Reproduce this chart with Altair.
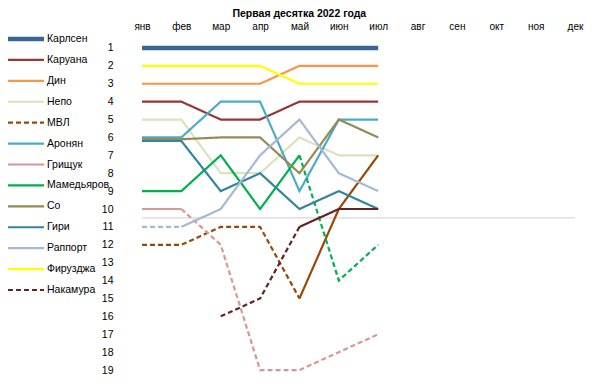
import altair as alt
import pandas as pd

months = ["янв", "фев", "мар", "апр", "май", "июн", "июл", "авг", "сен", "окт", "ноя", "дек"]
names = ["Карлсен", "Каруана", "Дин", "Непо", "МВЛ", "Аронян", "Грищук",
         "Мамедьяров", "Со", "Гири", "Раппорт", "Фирузджа", "Накамура"]
colors = ["#3B6497", "#953735", "#F79646", "#D7E4BD", "#984807", "#4BACC6", "#D99694",
          "#00B050", "#948A54", "#31859C", "#A5B8D8", "#FFFF00", "#632523"]

# rank per month (янв..июл); None = not in list
ranks = {
    "Карлсен":    [1, 1, 1, 1, 1, 1, 1],
    "Каруана":    [4, 4, 5, 5, 4, 4, 4],
    "Дин":        [3, 3, 3, 3, 2, 2, 2],
    "Непо":       [5, 5, 8, 8, 6, 7, 7],
    "МВЛ":        [12, 12, 11, 11, 15, 10, 7],
    "Аронян":     [6, 6, 4, 4, 9, 5, 5],
    "Грищук":     [10, 10, 12, 19, 19, 18, 17],
    "Мамедьяров": [9, 9, 7, 10, 7, 14, 12],
    "Со":         [6.1, 6.1, 6, 6, 8, 5, 6],
    "Гири":       [6.2, 6.2, 9, 8, 10, 9, 10],
    "Раппорт":    [11, 11, 10, 7, 5, 8, 9],
    "Фирузджа":   [2, 2, 2, 2, 3, 3, 3],
    "Накамура":   [None, None, 16, 15, 11, 10, 10],
}
# style of each segment between consecutive months: s = solid, d = dashed
seg_styles = {
    "МВЛ":        ["d", "d", "d", "d", "s", "s"],
    "Грищук":     ["s", "d", "d", "d", "d", "d"],
    "Мамедьяров": ["s", "s", "s", "s", "d", "d"],
    "Раппорт":    ["d", "s", "s", "s", "s", "s"],
    "Накамура":   ["s", "s", "d", "d", "s", "s"],
}
legend_styles = {"МВЛ": "d", "Накамура": "d"}
widths = {"Карлсен": 4.5}
cutoff = [10.5]

rows = []
for name in names:
    vals = ranks[name]
    styles = seg_styles.get(name, ["s"] * (len(vals) - 1))
    run = 0
    prev_style = None
    for i in range(len(vals) - 1):
        a, b = vals[i], vals[i + 1]
        if a is None or b is None:
            continue
        st = styles[i]
        if st != prev_style:
            run += 1
            prev_style = st
            rows.append(dict(series=name, run=f"{name}-{run}", month=i + 1, rank=a,
                             style=st, w=widths.get(name, 2.2)))
        rows.append(dict(series=name, run=f"{name}-{run}", month=i + 2, rank=b,
                         style=st, w=widths.get(name, 2.2)))
df = pd.DataFrame(rows)

FONT = "Liberation Sans"
W, H = 433, 340

color_scale = alt.Scale(domain=names, range=colors)
dash_scale = alt.Scale(domain=["s", "d"], range=[[1, 0], [7, 4]])

x_enc = alt.X("month:Q", scale=alt.Scale(domain=[1, 12], nice=False),
              axis=alt.Axis(orient="top", values=list(range(1, 13)),
                            labelExpr="['" + "','".join(months) + "'][datum.value-1]",
                            domain=False, ticks=False, grid=False, labelPadding=8,
                            labelFlush=False, labelOverlap=False,
                            labelFontSize=10, labelFont=FONT, labelColor="#000",
                            title=None))
y_enc = alt.Y("rank:Q", scale=alt.Scale(domain=[0.5, 19.5], reverse=True, nice=False, zero=False),
              axis=alt.Axis(values=list(range(1, 20)), domain=False, ticks=False, grid=False,
                            labelPadding=29, labelFontSize=10.5, labelFont=FONT,
                            labelFlush=False, labelOverlap=False,
                            labelColor="#000", title=None))

sep = alt.Chart(pd.DataFrame({"rank": cutoff})).mark_rule(
    color="#D9D9D9", strokeWidth=1.2).encode(
    y=y_enc, x=alt.value(0), x2=alt.value(W))

layers = [sep]
for name in names:
    layers.append(
        alt.Chart(df).transform_filter(alt.datum.series == name).mark_line(strokeCap="butt").encode(
            x=x_enc, y=y_enc,
            color=alt.Color("series:N", scale=color_scale, legend=None),
            strokeDash=alt.StrokeDash("style:N", scale=dash_scale, legend=None),
            strokeWidth=alt.StrokeWidth("w:Q", scale=None),
            detail="run:N",
        )
    )
main = alt.layer(*layers).properties(width=W, height=H)

leg_df = pd.DataFrame({
    "series": names,
    "style": [legend_styles.get(n, "s") for n in names],
    "w": [widths.get(n, 2.2) for n in names],
})
leg_y = alt.Y("series:N", sort=names, scale=alt.Scale(type="point", padding=0), axis=None)
leg_lines = alt.Chart(leg_df).mark_rule().encode(
    y=leg_y, x=alt.value(0), x2=alt.value(36),
    color=alt.Color("series:N", scale=color_scale, legend=None),
    strokeDash=alt.StrokeDash("style:N", scale=alt.Scale(domain=["s", "d"], range=[[1, 0], [5, 3]]), legend=None),
    strokeWidth=alt.StrokeWidth("w:Q", scale=None),
)
leg_text = alt.Chart(leg_df).mark_text(align="left", baseline="middle", font=FONT,
                                       fontSize=10.5, color="#000").encode(
    y=leg_y, x=alt.value(39), text="series:N")
legend = alt.layer(leg_lines, leg_text).properties(width=124, height=251)

chart = alt.hconcat(legend, main, spacing=10, bounds="flush").properties(
    title=alt.TitleParams("Первая десятка 2022 года", font=FONT, fontSize=10.5,
                          fontWeight="bold", color="#000", anchor="middle", dx=5, offset=2),
    padding={"left": -3, "top": 0, "right": 3, "bottom": 0},
).configure_view(stroke=None).resolve_scale(color="shared")

chart.save("out.html", embed_options={"renderer": "svg", "actions": False})
